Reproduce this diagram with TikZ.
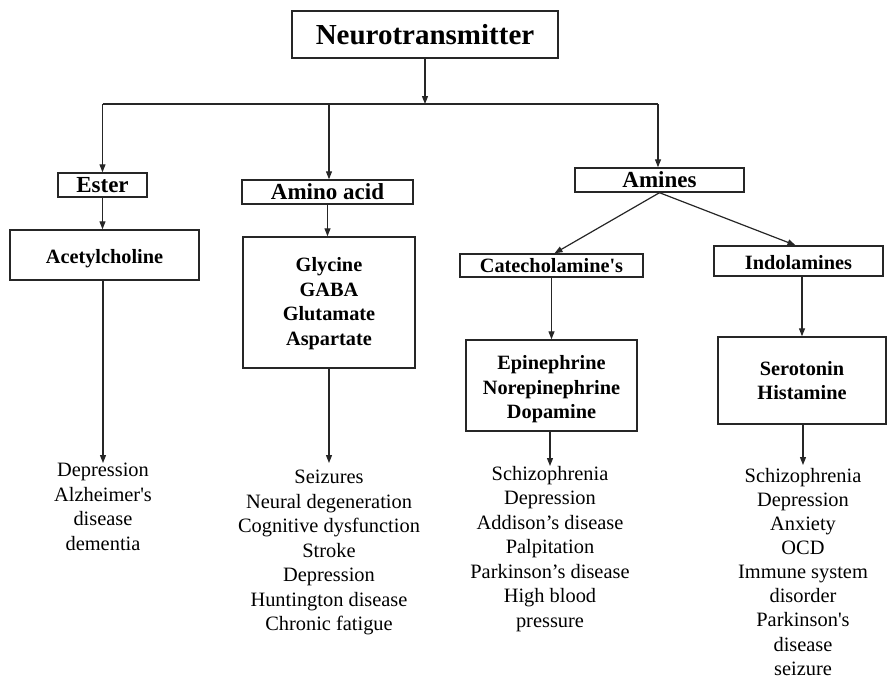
\documentclass[tikz,border=0pt]{standalone}
\usepackage{fontspec}
\setmainfont{Liberation Serif}[Ligatures=TeXOff]
\usetikzlibrary{arrows.meta}

% invisible strut that lowers the text block inside a box
\newcommand{\lowerby}[1]{\rule{0pt}{\dimexpr 14pt+2\dimexpr #1\relax\relax}}

\begin{document}
\begin{tikzpicture}[x=1pt,y=-1pt,
  box/.style={draw=black!85, line width=1.4pt, inner sep=0pt, align=center,
    font=\bfseries\fontsize{20.3}{24.5}\selectfont},
  catbox/.style={box, font=\bfseries\fontsize{23}{27}\selectfont},
  list/.style={inner sep=0pt, align=center, anchor=north,
    font=\fontsize{20.4}{24.5}\selectfont},
  link/.style={line width=1.2pt, draw=black!85},
  arr/.style={link, -{Triangle[length=8pt,width=6pt]}}
]
\useasboundingbox (0,0) rectangle (889,680);

% top node
\node[box, font=\bfseries\fontsize{29}{34}\selectfont,
      minimum width=266pt, minimum height=47pt] (nt) at (425,34.5) {Neurotransmitter};

% classes
\node[catbox, minimum width=89pt,  minimum height=24pt] (ester)  at (102.5,185) {\lowerby{1pt}Ester};
\node[catbox, minimum width=171pt, minimum height=24pt] (amino)  at (327.5,192) {Amino acid};
\node[catbox, minimum width=169pt, minimum height=24pt] (amines) at (659.5,180) {Amines};

% sub-classes of amines
\node[box, minimum width=183pt, minimum height=23pt] (cat) at (551.5,265.5) {Catecholamine's};
\node[box, minimum width=169pt, minimum height=30pt] (ind) at (798.5,261) {\lowerby{1.5pt}Indolamines};

% transmitters
\node[box, minimum width=189pt, minimum height=50pt]  (ach)  at (104.5,255)   {\lowerby{4pt}Acetylcholine};
\node[box, minimum width=172pt, minimum height=131pt] (gly)  at (329,302.5)   {\lowerby{1pt}Glycine\\GABA\\Glutamate\\Aspartate};
\node[box, minimum width=171pt, minimum height=91pt]  (epi)  at (551.5,385.5) {\lowerby{4pt}Epinephrine\\Norepinephrine\\Dopamine};
\node[box, minimum width=168pt, minimum height=87pt]  (sero) at (802,380.5)   {Serotonin\\Histamine};

% associated disorders
\node[list] (achl) at (103,463) {Depression\\Alzheimer's\\disease\\dementia};
\node[list] (glyl) at (329,470) {Seizures\\Neural degeneration\\Cognitive dysfunction\\Stroke\\Depression\\Huntington disease\\Chronic fatigue};
\node[list] (epil) at (550,466) {Schizophrenia\\Depression\\Addison’s disease\\Palpitation\\Parkinson’s disease\\High blood\\pressure};
\node[list, font=\fontsize{20.4}{24.1}\selectfont] (serl) at (803,468) {Schizophrenia\\Depression\\Anxiety\\OCD\\Immune system\\disorder\\Parkinson's\\disease\\seizure};

% branching bar
\coordinate (hub) at (425,104);
\coordinate (bL) at (102.5,104);
\coordinate (bM) at (329,104);
\coordinate (bR) at (658,104);

\draw[arr] (nt.south) -- (hub);
\draw[link] (bL) -- (bR);
\draw[arr] (bL) -- (ester.north);
\draw[arr] (bM) -- (bM |- amino.north);
\draw[arr] (bR) -- (bR |- amines.north);

\draw[arr] (ester.south) -- (ester.south |- ach.north);
\draw[arr] (amino.south) -- (amino.south |- gly.north);
\draw[arr] (amines.south) -- ([xshift=3pt]cat.north);
\draw[arr] (amines.south) -- ([xshift=-3pt]ind.north);
\draw[arr] (cat.south) -- (epi.north);
\draw[arr] (sero.north |- ind.south) -- (sero.north);

\draw[arr] (achl.north |- ach.south) -- (achl.north);
\draw[arr] (gly.south) -- ([yshift=7pt]glyl.north);
\draw[arr] (epil.north |- epi.south) -- (epil.north);
\draw[arr] (serl.north |- sero.south) -- ([yshift=3pt]serl.north);
\end{tikzpicture}
\end{document}
